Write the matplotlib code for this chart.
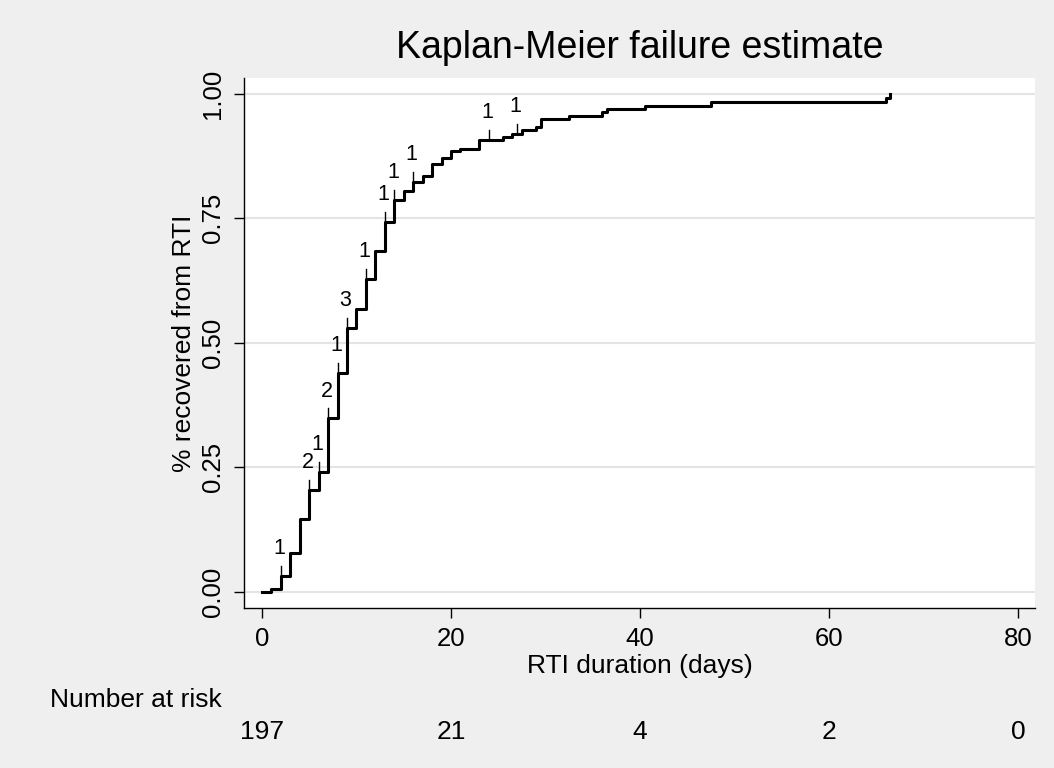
import numpy as np
import matplotlib
matplotlib.use("Agg")
import matplotlib.pyplot as plt
import matplotlib.transforms as mtransforms

plt.rcParams['font.family'] = ['Liberation Sans', 'DejaVu Sans']

# Kaplan-Meier failure curve
times = [0, 1, 2, 3, 4, 5, 6, 7, 8, 9, 10, 11, 12, 13, 14, 15, 16, 17, 18, 19,
         20, 21, 23, 25.5, 26.5, 27.5, 29, 29.5, 32.5, 36, 36.5, 40.5, 47.5,
         66, 66.5]
failure = [0.0, 0.005, 0.031, 0.077, 0.147, 0.204, 0.240, 0.348, 0.439, 0.529,
           0.567, 0.628, 0.685, 0.742, 0.787, 0.805, 0.822, 0.834, 0.859, 0.870,
           0.884, 0.889, 0.907, 0.914, 0.920, 0.927, 0.934, 0.949, 0.955, 0.963,
           0.969, 0.976, 0.984, 0.991, 1.0]

# censored observations: time and count
censor_times = [2, 5, 6, 7, 8, 9, 11, 13, 14, 16, 24, 27]
censor_counts = [1, 2, 1, 2, 1, 3, 1, 1, 1, 1, 1, 1]

# number at risk table
risk_times = [0, 20, 40, 60, 80]
risk_counts = [197, 21, 4, 2, 0]

bg = '#efefef'
fig = plt.figure(figsize=(10.54, 7.68), dpi=100, facecolor=bg)
ax = fig.add_axes([0.2315, 0.2083, 0.7505, 0.6901])
ax.set_facecolor('white')

ax.step(times, failure, where='post', color='black', lw=2.2, zorder=3)

tarr = np.array(times)
farr = np.array(failure)
for ct, cn in zip(censor_times, censor_counts):
    idx = np.searchsorted(tarr, ct, side='right') - 1
    base = farr[idx]
    ax.plot([ct, ct], [base, base + 0.02], color='black', lw=1.0, zorder=3)
    ax.annotate(str(cn), xy=(ct, base + 0.02), xytext=(-1, 5),
                textcoords='offset points', ha='center', va='bottom',
                fontsize=15.5)

ax.set_xlim(-1.9, 81.8)
ax.set_ylim(-0.0327, 1.0315)
ax.set_xticks([0, 20, 40, 60, 80])
ax.set_yticks([0, 0.25, 0.5, 0.75, 1.0])
ax.set_yticklabels(['0.00', '0.25', '0.50', '0.75', '1.00'], rotation=90,
                   va='center')
ax.tick_params(axis='both', direction='out', length=7, width=1.0,
               labelsize=18.5, pad=7)
ax.yaxis.grid(True, color='#e4e4e4', lw=1.5)
ax.set_axisbelow(True)
for s in ['top', 'right']:
    ax.spines[s].set_visible(False)
for s in ['left', 'bottom']:
    ax.spines[s].set_linewidth(1.0)

ax.set_xlabel('RTI duration (days)', fontsize=19, labelpad=2)
ax.set_ylabel('% recovered from RTI', fontsize=19, labelpad=3)
fig.text(0.607, 0.938, 'Kaplan-Meier failure estimate', fontsize=27,
         ha='center', va='center')

# number at risk
trans = mtransforms.blended_transform_factory(ax.transData, fig.transFigure)
fig.text(0.047, 0.088, 'Number at risk', fontsize=19, ha='left', va='center')
for rt, rc in zip(risk_times, risk_counts):
    ax.text(rt, 0.047, str(rc), transform=trans, fontsize=19,
            ha='center', va='center', clip_on=False)

fig.savefig('out.png', dpi=100, facecolor=bg)
